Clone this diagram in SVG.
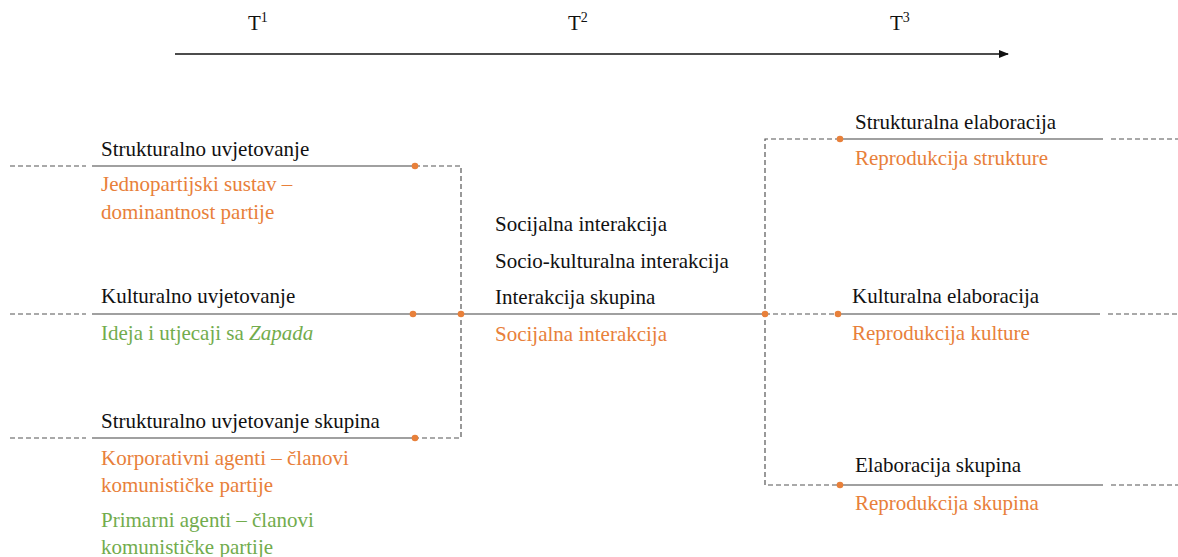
<svg xmlns="http://www.w3.org/2000/svg" width="1178" height="557" viewBox="0 0 1178 557">
<style>
text{font-family:'Liberation Serif','Times New Roman',serif;font-size:21px;fill:#111}
.o{fill:#E8803A}
.g{fill:#72AC4D}
.sup{font-size:14px}
.solid{stroke:#808080;stroke-width:1.6;fill:none}
.dash{stroke:#555;stroke-width:1.2;stroke-dasharray:5 3;fill:none}
.dot{fill:#E8803A}
</style>
<defs>
<marker id="arr" markerWidth="10" markerHeight="10" refX="9" refY="5" orient="auto" markerUnits="userSpaceOnUse">
<path d="M0,1 L10,5 L0,9 Z" fill="#111"/>
</marker>
</defs>
<rect width="1178" height="557" fill="#fff"/>
<g id="timeline">
<line x1="175" y1="54" x2="1008" y2="54" stroke="#111" stroke-width="1.3" marker-end="url(#arr)"/>
<text x="248" y="30">T<tspan class="sup" dy="-8">1</tspan></text>
<text x="568" y="30">T<tspan class="sup" dy="-8">2</tspan></text>
<text x="890" y="30">T<tspan class="sup" dy="-8">3</tspan></text>
</g>
<g id="connectors">
<line class="dash" x1="10" y1="166" x2="86" y2="166"/>
<line class="solid" x1="92" y1="166" x2="415" y2="166"/>
<path class="dash" d="M415,166 H461 V438 H415"/>
<line class="dash" x1="10" y1="314" x2="86" y2="314"/>
<line class="solid" x1="92" y1="314" x2="765" y2="314"/>
<line class="dash" x1="10" y1="438" x2="86" y2="438"/>
<line class="solid" x1="92" y1="438" x2="415" y2="438"/>
<path class="dash" d="M840,139 H765 V485 H840"/>
<line class="dash" x1="765" y1="314" x2="838" y2="314"/>
<line class="solid" x1="840" y1="139" x2="1103" y2="139"/>
<line class="dash" x1="1111" y1="139" x2="1178" y2="139"/>
<line class="solid" x1="838" y1="314" x2="1100" y2="314"/>
<line class="dash" x1="1108" y1="314" x2="1178" y2="314"/>
<line class="solid" x1="840" y1="485" x2="1103" y2="485"/>
<line class="dash" x1="1111" y1="485" x2="1178" y2="485"/>
</g>
<g id="dots">
<circle class="dot" cx="415" cy="166" r="3.3"/>
<circle class="dot" cx="413" cy="314" r="3.3"/>
<circle class="dot" cx="461" cy="314" r="3.3"/>
<circle class="dot" cx="415" cy="438" r="3.3"/>
<circle class="dot" cx="765" cy="314" r="3.3"/>
<circle class="dot" cx="840" cy="139" r="3.3"/>
<circle class="dot" cx="838" cy="314" r="3.3"/>
<circle class="dot" cx="840" cy="485" r="3.3"/>
</g>
<g id="node-strukturalno">
<text x="101" y="156">Strukturalno uvjetovanje</text>
<text class="o" x="101" y="191">Jednopartijski sustav –</text>
<text class="o" x="101" y="219">dominantnost partije</text>
</g>
<g id="node-kulturalno">
<text x="101" y="303">Kulturalno uvjetovanje</text>
<text class="g" x="101" y="340">Ideja i utjecaji sa <tspan font-style="italic">Zapada</tspan></text>
</g>
<g id="node-skupina">
<text x="101" y="428">Strukturalno uvjetovanje skupina</text>
<text class="o" x="101" y="465">Korporativni agenti – članovi</text>
<text class="o" x="101" y="492">komunističke partije</text>
<text class="g" x="101" y="527">Primarni agenti – članovi</text>
<text class="g" x="101" y="554">komunističke partije</text>
</g>
<g id="node-interakcija">
<text x="495" y="231">Socijalna interakcija</text>
<text x="495" y="268">Socio-kulturalna interakcija</text>
<text x="495" y="304">Interakcija skupina</text>
<text class="o" x="495" y="341">Socijalna interakcija</text>
</g>
<g id="node-strukturalna-elab">
<text x="855" y="129">Strukturalna elaboracija</text>
<text class="o" x="855" y="165">Reprodukcija strukture</text>
</g>
<g id="node-kulturalna-elab">
<text x="852" y="303">Kulturalna elaboracija</text>
<text class="o" x="852" y="340">Reprodukcija kulture</text>
</g>
<g id="node-elab-skupina">
<text x="855" y="472">Elaboracija skupina</text>
<text class="o" x="855" y="510">Reprodukcija skupina</text>
</g>
</svg>
